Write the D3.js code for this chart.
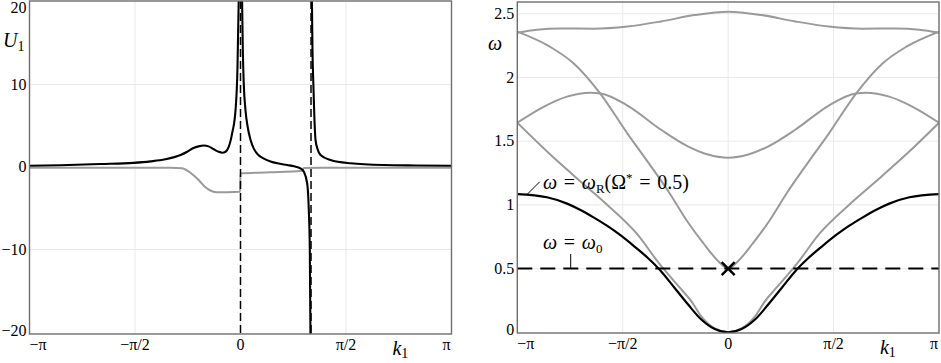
<!DOCTYPE html>
<html>
<head>
<meta charset="utf-8">
<script src="https://cdn.jsdelivr.net/npm/d3@7"></script>
<style>
  body { margin: 0; background: #fff; }
  svg text { font-family: "Liberation Serif", "DejaVu Serif", serif; fill: #000; }
  .tick-label { font-size: 16px; }
  .axis-name { font-size: 20px; }
  .note { font-size: 20px; }
  .grid line { stroke: #e9e9e9; stroke-width: 1; }
  .frame { fill: none; stroke: #6e6e6e; stroke-width: 1.4; }
</style>
</head>
<body>
<div id="chart"></div>
<script>
const PI = Math.PI;

// shared k1 axis
const kTicks = [-PI, -PI / 2, 0, PI / 2, PI];
const kTickLabels = ["−π", "−π/2", "0", "π/2", "π"];

// ---- left panel: U1 vs k1 ----
const uTicks = [-20, -10, 0, 10, 20];
const uTickLabels = ["−20", "−10", "0", "10", "20"];
const poleK = [0, 1.05];

// black curve, three branches split by the poles
const uBlackK1 = [-PI, -2.68, -2.085, -1.593, -1.34, -1.12, -0.893, -0.794, -0.70, -0.625, -0.546, -0.476, -0.398, -0.328, -0.272, -0.223, -0.174, -0.124, -0.074, -0.045, -0.025];
const uBlackU1 = [0.16, 0.22, 0.36, 0.5, 0.68, 0.93, 1.45, 1.85, 2.3, 2.5, 2.6, 2.5, 2.15, 1.85, 1.73, 1.85, 2.46, 4.1, 6.9, 12, 21];
const uBlackK2 = [0.022, 0.035, 0.049, 0.074, 0.104, 0.149, 0.2, 0.249, 0.342, 0.447, 0.55, 0.695, 0.8, 0.893, 0.943, 0.993, 1.017, 1.032, 1.042];
const uBlackU2 = [21, 14, 10, 6.9, 5.0, 3.3, 2.2, 1.6, 1.05, 0.68, 0.45, 0.24, 0.08, -0.16, -0.57, -2.0, -5.2, -10, -21];
const uBlackK3 = [1.062, 1.072, 1.085, 1.1, 1.117, 1.15, 1.191, 1.34, 1.638, 2.129, 2.6, PI];
const uBlackU3 = [21, 14, 10, 6, 3.3, 2.1, 1.45, 0.85, 0.45, 0.24, 0.19, 0.16];

// grey curve
const uGreyK = [-PI, -1.042, -0.87, -0.78, -0.70, -0.62, -0.53, -0.45, -0.36, -0.2, -0.007, 0, 0.447, 0.919, 0.943, 1.19, PI];
const uGreyU = [-0.08, -0.08, -0.16, -0.5, -1.0, -1.6, -2.4, -2.85, -3.05, -3.05, -3.0, -0.77, -0.65, -0.45, -0.12, -0.08, -0.08];

// ---- right panel: omega vs k1 ----
const wTicks = [0, 0.5, 1, 1.5, 2, 2.5];
const wTickLabels = ["0", "0.5", "1", "1.5", "2", "2.5"];
const omega0 = 0.5;

const wRK = [-PI, -2.7, -2.4, -2.2, -2.0, -1.8, -1.6, -1.4, -1.2, -1.0, -0.8, -0.6, -0.4, -0.2, 0, 0.2, 0.4, 0.6, 0.8, 1.0, 1.2, 1.4, 1.6, 1.8, 2.0, 2.2, 2.4, 2.7, PI];
const wRW = [1.085, 1.06, 1.01, 0.96, 0.9, 0.835, 0.76, 0.675, 0.585, 0.48, 0.35, 0.22, 0.1, 0.025, 0, 0.025, 0.1, 0.22, 0.35, 0.48, 0.585, 0.675, 0.76, 0.835, 0.9, 0.96, 1.01, 1.06, 1.085];

const bandAK = [-PI, -2.85, -2.5, -2.0, -1.5, -1.0, -0.5, 0, 0.5, 1.0, 1.5, 2.0, 2.5, 2.85, PI];
const bandAW = [2.352, 2.375, 2.385, 2.383, 2.40, 2.44, 2.49, 2.517, 2.49, 2.44, 2.40, 2.383, 2.385, 2.375, 2.352];

const bandBK = [-PI, -2.65, -2.3, -1.9, -1.5, -1.2, -0.87, -0.62, -0.37, -0.15, 0, 0.15, 0.37, 0.62, 0.87, 1.2, 1.5, 1.9, 2.3, 2.65, PI];
const bandBW = [2.36, 2.24, 2.11, 1.87, 1.56, 1.34, 1.09, 0.88, 0.70, 0.56, 0.5, 0.56, 0.70, 0.88, 1.09, 1.34, 1.56, 1.87, 2.11, 2.24, 2.36];

const bandCK = [-PI, -2.75, -2.4, -2.05, -1.9, -1.5, -1.0, -0.6, -0.3, 0, 0.3, 0.6, 1.0, 1.5, 1.9, 2.05, 2.4, 2.75, PI];
const bandCW = [1.645, 1.77, 1.85, 1.88, 1.875, 1.78, 1.59, 1.46, 1.395, 1.37, 1.395, 1.46, 1.59, 1.78, 1.875, 1.88, 1.85, 1.77, 1.645];

const bandDK = [-PI, -2.67, -2.17, -1.8, -1.37, -1.02, -0.72, -0.55, -0.4, -0.2, 0, 0.2, 0.4, 0.55, 0.72, 1.02, 1.37, 1.8, 2.17, 2.67, PI];
const bandDW = [1.645, 1.405, 1.17, 1.0, 0.78, 0.535, 0.35, 0.245, 0.125, 0.03, 0, 0.03, 0.125, 0.245, 0.35, 0.535, 0.78, 1.0, 1.17, 1.405, 1.645];

const zip = (xs, ys) => xs.map((x, i) => ({x: x, y: ys[i]}));

class FramedPlot {

    constructor(svg, id, box, yDomain, yRange) {
        this.svg = svg;
        this.id = id;
        this.box = box;
        this.x = d3.scaleLinear().domain([-PI, PI]).range([box.left, box.right]);
        this.y = d3.scaleLinear().domain(yDomain).range(yRange);
        this.initVis();
    }

    initVis() {
        let vis = this;
        let b = vis.box;

        vis.svg.append("clipPath")
            .attr("id", "clip-" + vis.id)
            .append("rect")
            .attr("x", b.left).attr("y", b.top)
            .attr("width", b.right - b.left).attr("height", b.bottom - b.top);

        vis.grid = vis.svg.append("g").attr("class", "grid");
        vis.plot = vis.svg.append("g").attr("clip-path", "url(#clip-" + vis.id + ")");
        vis.line = d3.line()
            .x(d => vis.x(d.x))
            .y(d => vis.y(d.y))
            .curve(d3.curveMonotoneX);
    }

    drawGrid(yTicks) {
        let vis = this;
        let b = vis.box;
        vis.grid.selectAll(".vgrid")
            .data(kTicks.slice(1, -1))
            .enter().append("line")
            .attr("class", "vgrid")
            .attr("x1", d => vis.x(d)).attr("x2", d => vis.x(d))
            .attr("y1", b.top).attr("y2", b.bottom);
        vis.grid.selectAll(".hgrid")
            .data(yTicks)
            .enter().append("line")
            .attr("class", "hgrid")
            .attr("x1", b.left).attr("x2", b.right)
            .attr("y1", d => vis.y(d)).attr("y2", d => vis.y(d));
    }

    drawCurve(points, color, width) {
        let vis = this;
        vis.plot.append("path")
            .datum(points)
            .attr("fill", "none")
            .attr("stroke", color)
            .attr("stroke-width", width)
            .attr("stroke-linejoin", "round")
            .attr("d", vis.line);
    }

    drawFrame(yTicks, yLabels) {
        let vis = this;
        let b = vis.box;
        vis.svg.append("rect")
            .attr("class", "frame")
            .attr("x", b.left).attr("y", b.top)
            .attr("width", b.right - b.left).attr("height", b.bottom - b.top);

        // x tick labels, end labels pulled inside the frame
        vis.svg.selectAll(".xlab-" + vis.id)
            .data(kTicks)
            .enter().append("text")
            .attr("class", "tick-label xlab-" + vis.id)
            .attr("x", (d, i) => i == 0 ? b.left : (i == kTicks.length - 1 ? b.right - 1 : vis.x(d)))
            .attr("y", b.bottom + 16)
            .attr("text-anchor", (d, i) => i == 0 ? "start" : (i == kTicks.length - 1 ? "end" : "middle"))
            .text((d, i) => kTickLabels[i]);

        // y tick labels
        vis.svg.selectAll(".ylab-" + vis.id)
            .data(yTicks)
            .enter().append("text")
            .attr("class", "tick-label ylab-" + vis.id)
            .attr("x", b.left - 3)
            .attr("y", d => Math.min(Math.max(vis.y(d), b.top + 7), b.bottom - 3))
            .attr("dy", "0.33em")
            .attr("text-anchor", "end")
            .text((d, i) => yLabels[i]);

        // k1 axis name
        let kText = vis.svg.append("text")
            .attr("class", "axis-name")
            .attr("x", vis.x(PI * 0.72))
            .attr("y", b.bottom + 21);
        kText.append("tspan").attr("font-style", "italic").text("k");
        kText.append("tspan").attr("font-size", "14px").attr("dy", 3).text("1");
    }
}

const svg = d3.select("#chart").append("svg")
    .attr("width", 941)
    .attr("height", 363);

// ---- left panel ----
const left = new FramedPlot(svg, "u", {left: 29.5, right: 451.5, top: 1, bottom: 334}, [-20, 20], [332, 2]);
left.drawGrid([-10, 10]);
left.drawCurve(zip(uGreyK, uGreyU), "#9a9a9a", 2);
left.drawCurve(zip(uBlackK1, uBlackU1), "#000", 2.1);
left.drawCurve(zip(uBlackK2, uBlackU2), "#000", 2.1);
left.drawCurve(zip(uBlackK3, uBlackU3), "#000", 2.1);
left.plot.selectAll(".pole")
    .data(poleK)
    .enter().append("line")
    .attr("class", "pole")
    .attr("x1", d => left.x(d)).attr("x2", d => left.x(d))
    .attr("y1", left.box.top).attr("y2", left.box.bottom)
    .attr("stroke", "#000")
    .attr("stroke-width", 1.5)
    .attr("stroke-dasharray", "8,4");
left.drawFrame(uTicks, uTickLabels);

let uText = svg.append("text").attr("class", "axis-name").attr("x", 3).attr("y", 47);
uText.append("tspan").attr("font-style", "italic").text("U");
uText.append("tspan").attr("font-size", "14px").attr("dy", 4).text("1");

// ---- right panel ----
const right = new FramedPlot(svg, "w", {left: 517.3, right: 939, top: 2, bottom: 333}, [0, 2.5], [332.3, 13.8]);
right.drawGrid([0.5, 1, 1.5, 2, 2.5]);
right.drawCurve(zip(bandAK, bandAW), "#9a9a9a", 2);
right.drawCurve(zip(bandBK, bandBW), "#9a9a9a", 2);
right.drawCurve(zip(bandCK, bandCW), "#9a9a9a", 2);
right.drawCurve(zip(bandDK, bandDW), "#9a9a9a", 2);
right.drawCurve(zip(wRK, wRW), "#000", 2.2);

right.plot.append("line")
    .attr("x1", right.box.left).attr("x2", right.box.right)
    .attr("y1", right.y(omega0)).attr("y2", right.y(omega0))
    .attr("stroke", "#000")
    .attr("stroke-width", 2)
    .attr("stroke-dasharray", "15,8");

// cross at (0, omega0)
const cx = right.x(0), cy = right.y(omega0), cs = 6.5;
svg.append("path")
    .attr("d", `M${cx - cs},${cy - cs}L${cx + cs},${cy + cs}M${cx - cs},${cy + cs}L${cx + cs},${cy - cs}`)
    .attr("stroke", "#000")
    .attr("stroke-width", 2.5);

right.drawFrame(wTicks, wTickLabels);

let wText = svg.append("text").attr("class", "axis-name").attr("x", 488).attr("y", 50);
wText.append("tspan").attr("font-style", "italic").text("ω");

// annotation: omega_R
const rNoteK = -3.0;
svg.append("line")
    .attr("x1", right.x(rNoteK)).attr("y1", right.y(1.08))
    .attr("x2", right.x(rNoteK) + 13).attr("y2", right.y(1.08) - 13)
    .attr("stroke", "#000").attr("stroke-width", 1);
let rText = svg.append("text").attr("class", "note").attr("x", 543).attr("y", 189);
rText.append("tspan").attr("font-style", "italic").text("ω");
rText.append("tspan").text("\u2004=\u2004");
rText.append("tspan").attr("font-style", "italic").text("ω");
rText.append("tspan").attr("font-size", "13px").attr("dy", 4).text("R");
rText.append("tspan").attr("dy", -4).text("(Ω");
rText.append("tspan").attr("font-size", "13px").attr("dy", -7).text("*");
rText.append("tspan").attr("dy", 7).text("\u2004=\u20040.5)");

// annotation: omega_0
const zNoteX = 570.7;
svg.append("line")
    .attr("x1", zNoteX).attr("x2", zNoteX)
    .attr("y1", 254).attr("y2", right.y(omega0))
    .attr("stroke", "#000").attr("stroke-width", 1);
let zText = svg.append("text").attr("class", "note").attr("x", 543).attr("y", 249);
zText.append("tspan").attr("font-style", "italic").text("ω");
zText.append("tspan").text("\u2004=\u2004");
zText.append("tspan").attr("font-style", "italic").text("ω");
zText.append("tspan").attr("font-size", "13px").attr("dy", 4).text("0");
</script>
</body>
</html>
